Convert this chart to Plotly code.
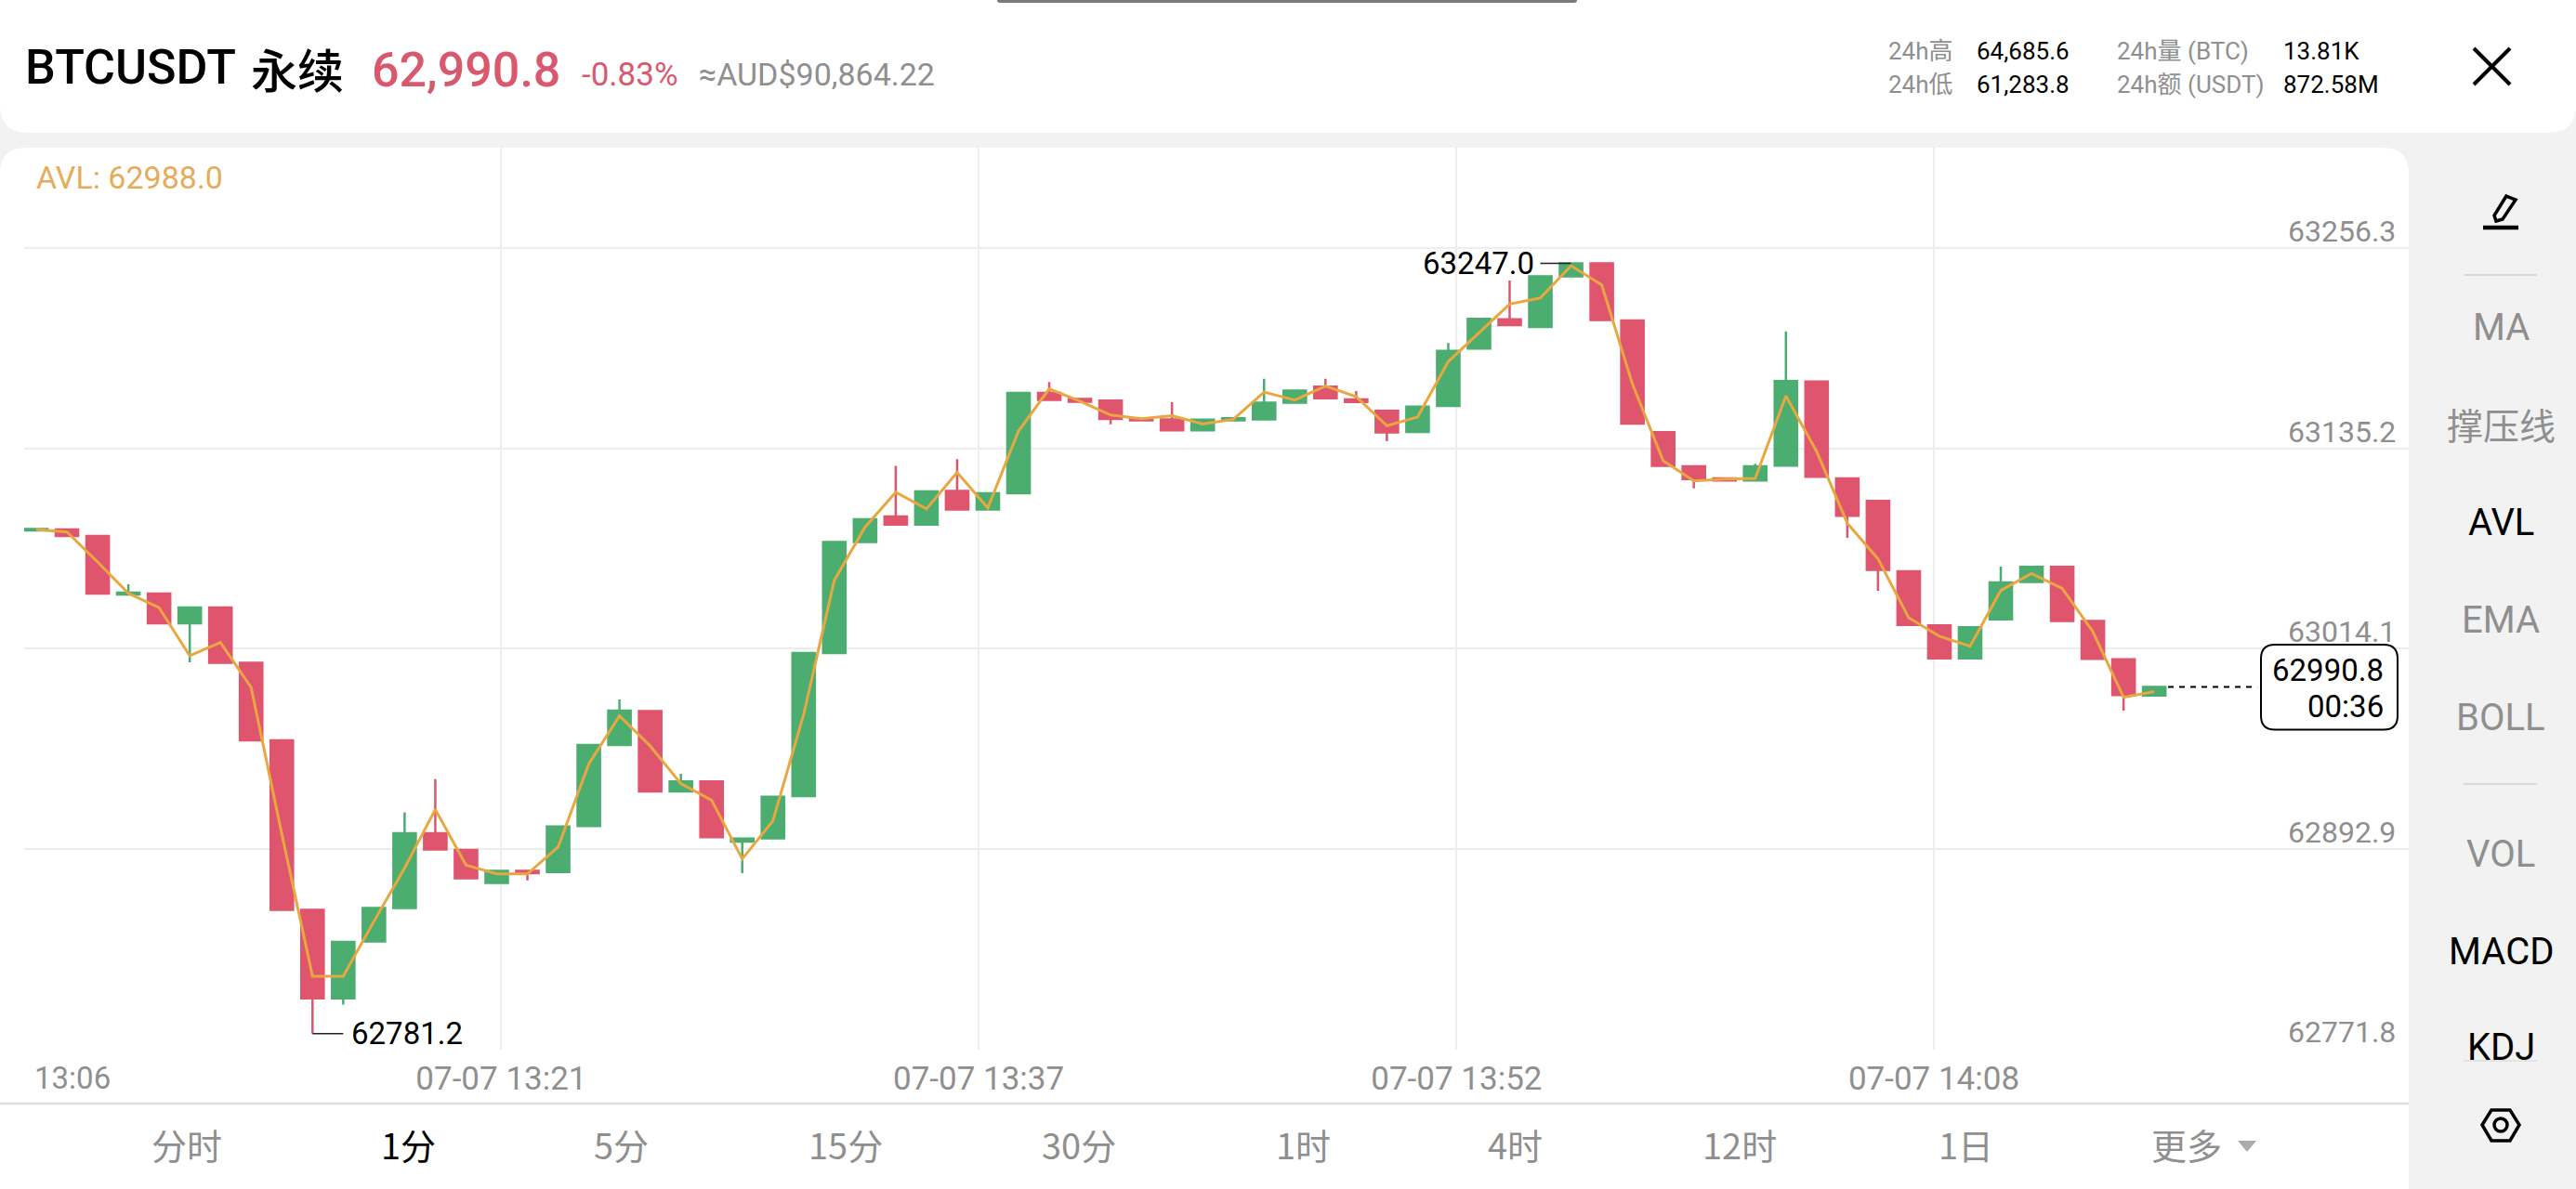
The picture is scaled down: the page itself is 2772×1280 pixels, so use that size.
import plotly.graph_objects as go

# One-minute BTCUSDT perpetual candles, 13:06 onward
minutes = list(range(70))
opens = [63085.5, 63086.1, 63082.2, 63046.8, 63047.3, 63029.4, 63038.9, 63005.5, 62958.6, 62856.0,
         62802.6, 62837.0, 62857.2, 62902.4, 62892.3, 62872.3, 62879.7, 62879.0, 62906.7, 62955.8,
         62976.2, 62927.7, 62933.7, 62897.4, 62899.3, 62924.9, 63011.4, 63078.5, 63094.0, 63089.1,
         63109.4, 63098.1, 63108.0, 63168.7, 63165.0, 63164.0, 63152.9, 63152.7, 63146.1, 63152.1,
         63152.7, 63162.7, 63172.4, 63164.7, 63157.8, 63145.1, 63160.8, 63195.5, 63213.2, 63208.6,
         63239.1, 63247.0, 63212.5, 63144.9, 63124.3, 63117.0, 63115.7, 63124.7, 63175.6, 63117.0,
         63103.4, 63060.8, 63028.1, 63008.2, 63031.8, 63054.3, 63063.5, 63030.7, 63007.6, 62985.7]
highs = [63086.4, 63086.1, 63082.2, 63053.0, 63047.3, 63038.9, 63038.9, 63005.5, 62958.6, 62856.0,
         62836.7, 62857.2, 62915.0, 62935.1, 62892.3, 62879.7, 62879.7, 62906.5, 62955.8, 62983.3,
         62976.2, 62938.4, 62933.7, 62899.1, 62924.4, 63011.4, 63078.5, 63092.3, 63124.6, 63109.1,
         63128.6, 63108.0, 63168.7, 63175.2, 63165.0, 63164.0, 63152.9, 63163.1, 63152.5, 63153.3,
         63177.2, 63170.1, 63177.2, 63169.8, 63157.8, 63160.4, 63198.8, 63213.4, 63236.6, 63239.1,
         63247.0, 63247.0, 63212.5, 63144.9, 63124.3, 63117.0, 63125.8, 63205.9, 63175.6, 63117.0,
         63103.4, 63060.8, 63028.1, 63027.0, 63063.6, 63063.5, 63063.5, 63030.7, 63007.6, 62990.8]
lows = [63085.5, 63082.2, 63047.3, 63046.8, 63029.4, 63005.8, 63005.5, 62958.6, 62856.0, 62781.2,
        62798.7, 62837.0, 62857.2, 62892.5, 62875.1, 62872.3, 62873.9, 62879.0, 62906.7, 62955.8,
        62927.7, 62927.7, 62900.0, 62878.3, 62899.3, 62924.9, 63011.4, 63078.5, 63089.1, 63089.1,
        63098.1, 63098.1, 63108.0, 63164.4, 63163.3, 63149.7, 63152.1, 63146.1, 63146.1, 63152.1,
        63152.7, 63162.7, 63165.5, 63163.2, 63139.5, 63145.1, 63160.8, 63195.5, 63209.7, 63208.6,
        63239.1, 63212.7, 63150.1, 63124.5, 63111.0, 63115.7, 63115.7, 63124.7, 63118.0, 63081.1,
        63049.0, 63028.3, 63008.2, 63008.2, 63031.8, 63054.3, 63030.7, 63007.9, 62976.6, 62985.7]
closes = [63086.4, 63082.2, 63047.3, 63047.9, 63029.4, 63038.9, 63005.5, 62958.6, 62856.0, 62802.6,
          62836.7, 62857.2, 62902.4, 62892.5, 62875.1, 62879.7, 62878.3, 62906.5, 62955.8, 62976.6,
          62927.7, 62933.7, 62900.0, 62899.1, 62924.4, 63011.4, 63078.5, 63092.3, 63089.1, 63109.1,
          63098.1, 63108.0, 63168.7, 63164.4, 63163.3, 63152.9, 63152.1, 63146.1, 63152.5, 63153.3,
          63162.7, 63170.1, 63165.5, 63163.2, 63144.8, 63160.4, 63194.1, 63213.4, 63209.7, 63239.1,
          63247.0, 63212.7, 63150.1, 63124.5, 63116.6, 63115.7, 63124.3, 63175.8, 63118.0, 63094.4,
          63061.6, 63028.3, 63008.2, 63027.0, 63054.1, 63063.5, 63030.7, 63007.9, 62986.0, 62990.8]
avl = [63086.1, 63084.6, 63066.4, 63047.5, 63038.8, 63009.7, 63017.7, 62990.6, 62901.9, 62815.9,
       62815.9, 62849.1, 62881.3, 62916.8, 62883.1, 62877.8, 62877.8, 62894.0, 62944.3, 62973.4,
       62955.2, 62932.4, 62922.4, 62886.9, 62909.9, 62974.2, 63055.4, 63087.5, 63108.6, 63098.5,
       63120.6, 63099.1, 63145.6, 63171.1, 63163.7, 63155.3, 63153.1, 63154.9, 63149.9, 63152.7,
       63169.2, 63164.4, 63172.8, 63166.4, 63148.8, 63154.1, 63187.6, 63205.0, 63222.4, 63226.1,
       63245.6, 63234.0, 63174.1, 63127.7, 63115.5, 63116.6, 63117.0, 63166.8, 63133.3, 63089.9,
       63068.3, 63032.7, 63021.5, 63015.5, 63049.2, 63059.5, 63050.5, 63024.3, 62984.6, 62988.0]

price_ticks = [63256.3, 63135.2, 63014.1, 62892.9, 62771.8]
time_ticks = [15.15, 30.7, 46.27, 61.82]
time_labels = ["07-07 13:21", "07-07 13:37", "07-07 13:52", "07-07 14:08"]

low_price = 62781.2
high_price = 63247.0
last_price = 62990.8
countdown = "00:36"

side_grey = ["MA", "撑压线", "EMA", "BOLL", "VOL"]
intervals = ["分时", "1分", "5分", "15分", "30分", "1时", "4时", "12时", "1日", "更多"]

WIDTH, HEIGHT = 2772, 1280
RED, GREEN, ORANGE = "#E0556E", "#4CAD70", "#E8A740"
GREY, PANEL_BG, GRID = "#8F8F8F", "#F2F2F2", "#EDEDED"
LATIN = "Roboto, 'Noto Sans CJK SC', sans-serif"
CJK = "'Noto Sans CJK SC', Roboto, sans-serif"


def fx(x):
    return x / WIDTH


def fy(y):
    return 1 - y / HEIGHT


def rounded(x0, y0, x1, y1, tl=0, tr=0, br=0, bl=0):
    """Rounded rectangle as an SVG path in paper coordinates; inputs are page pixels."""
    def p(x, y):
        return f"{fx(x):.6f},{fy(y):.6f}"
    return (f"M{p(x0 + tl, y0)} L{p(x1 - tr, y0)} Q{p(x1, y0)} {p(x1, y0 + tr)} "
            f"L{p(x1, y1 - br)} Q{p(x1, y1)} {p(x1 - br, y1)} L{p(x0 + bl, y1)} "
            f"Q{p(x0, y1)} {p(x0, y1 - bl)} L{p(x0, y0 + tl)} Q{p(x0, y0)} {p(x0 + tl, y0)} Z")


def poly(points, close=False):
    d = " L".join(f"{fx(x):.6f},{fy(y):.6f}" for x, y in points)
    return "M" + d + (" Z" if close else "")


def panel(path, fill="white", layer="below", line=None):
    return dict(type="path", xref="paper", yref="paper", path=path, fillcolor=fill,
                line=line or dict(width=0), layer=layer)


def stroke(points, color="#000000", width=4, close=False, layer="above"):
    return dict(type="path", xref="paper", yref="paper", path=poly(points, close),
                line=dict(color=color, width=width), layer=layer)


def text(s, x, y, size, color="#000000", anchor="left", family=LATIN, weight=None):
    font = dict(size=size, color=color, family=family)
    if weight:
        font["weight"] = weight
    return dict(text=s, x=fx(x), y=fy(y), xref="paper", yref="paper", showarrow=False,
                xanchor=anchor, yanchor="middle", font=font)


fig = go.Figure()

fig.add_trace(go.Candlestick(
    x=minutes, open=opens, high=highs, low=lows, close=closes,
    increasing=dict(line=dict(color=GREEN, width=2.5), fillcolor=GREEN),
    decreasing=dict(line=dict(color=RED, width=2.5), fillcolor=RED),
    whiskerwidth=0, hoverinfo="skip", showlegend=False,
))
fig.add_trace(go.Scatter(
    x=minutes, y=avl, mode="lines", line=dict(color=ORANGE, width=3),
    hoverinfo="skip", showlegend=False,
))
# Leader lines from the session extremes to their labels
low_at = lows.index(low_price)
high_at = highs.index(high_price)
fig.add_trace(go.Scatter(x=[low_at, low_at + 1], y=[low_price, low_price], mode="lines",
                         line=dict(color="#222222", width=1.5), hoverinfo="skip", showlegend=False))
fig.add_trace(go.Scatter(x=[high_at - 1, high_at], y=[high_price, high_price], mode="lines",
                         line=dict(color="#222222", width=1.5), hoverinfo="skip", showlegend=False))
# Dashed leader to the last-price box
fig.add_trace(go.Scatter(x=[minutes[-1] + 0.45, minutes[-1] + 3.36], y=[last_price, last_price], mode="lines",
                         line=dict(color="#000000", width=2, dash="6px,6px"),
                         hoverinfo="skip", showlegend=False))

shapes = [
    panel(rounded(0, -2, WIDTH, 143, br=30, bl=30)),
    panel(rounded(0, 159, 2592, HEIGHT + 2, tl=28, tr=28)),
    panel(rounded(1073, -2, 1697, 3, br=3, bl=3), fill="#7A7A7A"),
    stroke([(0, 1188), (2592, 1188)], color="#DEDEDE", width=2.5, layer="below"),
    # last-price box
    panel(rounded(2433, 694, 2580, 785.5, 15, 15, 15, 15), layer="above",
          line=dict(color="#000000", width=2)),
    # close button
    stroke([(2662, 52), (2701, 91)]),
    stroke([(2701, 52), (2662, 91)]),
    # drawing tool
    stroke([(2697, 211), (2707, 215), (2693, 236), (2686, 238), (2684, 232)], width=3.5, close=True),
    stroke([(2672, 245), (2710, 245)], width=4.5),
    # sidebar dividers
    stroke([(2651, 296), (2730, 296)], color="#DADADA", width=2),
    stroke([(2651, 844), (2730, 844)], color="#DADADA", width=2),
    stroke([(2651, 1142), (2730, 1142)], color="#E2E2E2", width=2),
    # settings hexagon
    stroke([(2671, 1211), (2681, 1195), (2701, 1195), (2711, 1211), (2701, 1228), (2681, 1228)],
           width=3.5, close=True),
    dict(type="circle", xref="paper", yref="paper", x0=fx(2684), x1=fx(2698), y0=fy(1218), y1=fy(1204),
         line=dict(color="#000000", width=3.5), layer="above"),
    # 更多 arrow
    panel(poly([(2408, 1228), (2428, 1228), (2418, 1240)], close=True), fill="#ABABAB", layer="above"),
]

annotations = [
    text("BTCUSDT", 25, 73, 52, weight=500),
    text("永续", 268, 73, 50, family=CJK, weight=500),
    text("62,990.8", 398, 75, 52, color="#D9586E", weight=500),
    text("-0.83%", 624, 80, 35, color="#D9586E"),
    text("≈AUD$90,864.22", 750, 80, 34, color=GREY),
    text("AVL: 62988.0", 37, 191, 34, color="#E5AD5B"),
    text("24h高", 2030, 55, 26, color=GREY),
    text("24h低", 2030, 91, 26, color=GREY),
    text("64,685.6", 2125, 55, 26),
    text("61,283.8", 2125, 91, 26),
    text("24h量 (BTC)", 2276, 55, 26, color=GREY),
    text("24h额 (USDT)", 2276, 91, 26, color=GREY),
    text("13.81K", 2455, 55, 26),
    text("872.58M", 2455, 91, 26),
    text("13:06", 35, 1160, 33, color=GREY),
    text(f"{last_price}", 2567, 721, 33, anchor="right"),
    text(countdown, 2567, 760, 33, anchor="right"),
    dict(text=f"{low_price}", x=low_at + 1, y=low_price, xref="x", yref="y", showarrow=False,
         xanchor="left", yanchor="middle", xshift=7, font=dict(size=33, color="#000000", family=LATIN)),
    dict(text=f"{high_price:.1f}", x=high_at - 1, y=high_price, xref="x", yref="y", showarrow=False,
         xanchor="right", yanchor="middle", xshift=-5, font=dict(size=33, color="#000000", family=LATIN)),
]

# Price labels sit just above their gridlines, inside the plot's right edge
for value in price_ticks:
    annotations.append(dict(text=f"{value}", x=fx(2580), y=value, xref="paper", yref="y", showarrow=False,
                            xanchor="right", yanchor="middle", yshift=18,
                            font=dict(size=32, color=GREY, family=LATIN)))

side_y = {"MA": 352, "撑压线": 456, "AVL": 562, "EMA": 667, "BOLL": 772, "VOL": 919, "MACD": 1024, "KDJ": 1127}
for name, y in side_y.items():
    annotations.append(text(name, 2691, y, 39 if name == "撑压线" else 40,
                            color=GREY if name in side_grey else "#000000",
                            anchor="center", family=CJK if name == "撑压线" else LATIN))

tab_x = [201, 439, 668, 910, 1161, 1402, 1630, 1872, 2115, 2353]
for name, x in zip(intervals, tab_x):
    annotations.append(text(name, x, 1231, 38, color="#000000" if name == "1分" else GREY,
                            anchor="center", family=CJK))

fig.update_layout(
    width=WIDTH, height=HEIGHT, margin=dict(l=0, r=0, t=0, b=0, pad=0), autosize=False,
    paper_bgcolor=PANEL_BG, plot_bgcolor="rgba(0,0,0,0)",
    boxgap=0.27, boxgroupgap=0, hovermode=False, showlegend=False,
    shapes=shapes, annotations=annotations,
    xaxis=dict(domain=[fx(26), fx(2592)], range=[-0.394, 77.29], rangeslider=dict(visible=False),
               tickmode="array", tickvals=time_ticks, ticktext=time_labels, showgrid=True, gridcolor=GRID,
               gridwidth=2, zeroline=False, showline=False, ticks="", ticklen=0,
               ticklabelstandoff=7,
               tickfont=dict(size=35, color=GREY, family=LATIN), anchor="y"),
    yaxis=dict(domain=[fy(1130), fy(159)], range=[62771.5, 63316.97], side="right",
               tickmode="array", tickvals=price_ticks, showticklabels=False,
               showgrid=True, gridcolor=GRID, gridwidth=2, zeroline=False, showline=False, ticks="", ticklen=0,
               anchor="x"),
)

fig.write_html("out.html", config={"displayModeBar": False})
